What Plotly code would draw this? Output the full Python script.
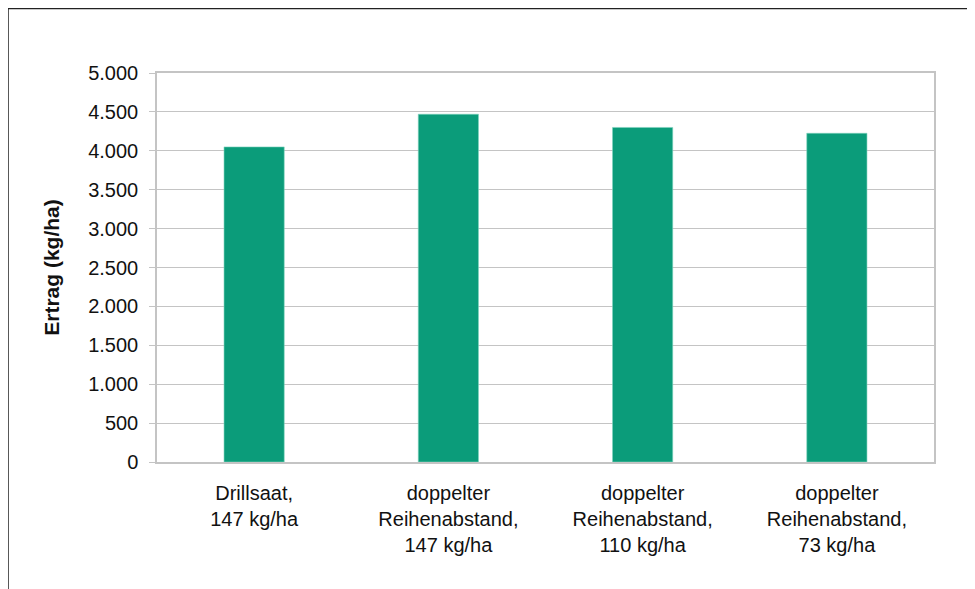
import plotly.graph_objects as go

categories = [
    "Drillsaat,<br>147 kg/ha",
    "doppelter<br>Reihenabstand,<br>147 kg/ha",
    "doppelter<br>Reihenabstand,<br>110 kg/ha",
    "doppelter<br>Reihenabstand,<br>73 kg/ha",
]
ertrag = [4050, 4470, 4300, 4225]
y_ticks = [0, 500, 1000, 1500, 2000, 2500, 3000, 3500, 4000, 4500, 5000]
y_tick_labels = ["0", "500", "1.000", "1.500", "2.000", "2.500", "3.000",
                 "3.500", "4.000", "4.500", "5.000"]

FONT = "Liberation Sans, Arial, Helvetica, sans-serif"

# page body has an 8px offset, so figure coordinates = reference - 8
L, T, PW, PH = 149, 65, 777, 389
W, H = 975, 589

fig = go.Figure(
    go.Bar(
        x=categories,
        y=ertrag,
        marker=dict(color="#0b9c7a", line=dict(color="#7fd3bd", width=0.6)),
        width=0.31,
    )
)

fig.update_layout(
    width=W,
    height=H,
    margin=dict(l=L, r=W - L - PW, t=T, b=H - T - PH),
    paper_bgcolor="white",
    plot_bgcolor="white",
    font=dict(family=FONT, size=20, color="#111111"),
    showlegend=False,
    shapes=[
        dict(type="rect", xref="paper", yref="paper",
             x0=(0 - L) / PW, x1=(W + 20 - L) / PW,
             y0=-(H + 20 - T - PH) / PH, y1=1 + T / PH - 0.5 / PH,
             line=dict(color="#222222", width=1.5), layer="below"),
    ],
)

fig.update_yaxes(
    range=[0, 5000],
    tickvals=y_ticks,
    ticktext=y_tick_labels,
    showgrid=True,
    gridcolor="#c4c4c4",
    gridwidth=1.3,
    showline=True,
    linecolor="#c4c4c4",
    linewidth=1.5,
    mirror=True,
    ticks="outside",
    ticklen=6,
    tickcolor="#c4c4c4",
    tickfont=dict(size=20),
    ticklabelstandoff=7,
    title=dict(text="<b>Ertrag (kg/ha)</b>", font=dict(size=21), standoff=23),
    zeroline=False,
    fixedrange=True,
)
fig.update_xaxes(
    showline=True,
    linecolor="#c4c4c4",
    linewidth=1.5,
    mirror=True,
    ticks="",
    tickfont=dict(size=20),
    ticklabelstandoff=12,
    tickangle=0,
    showgrid=False,
)

fig.write_html("out.html")
